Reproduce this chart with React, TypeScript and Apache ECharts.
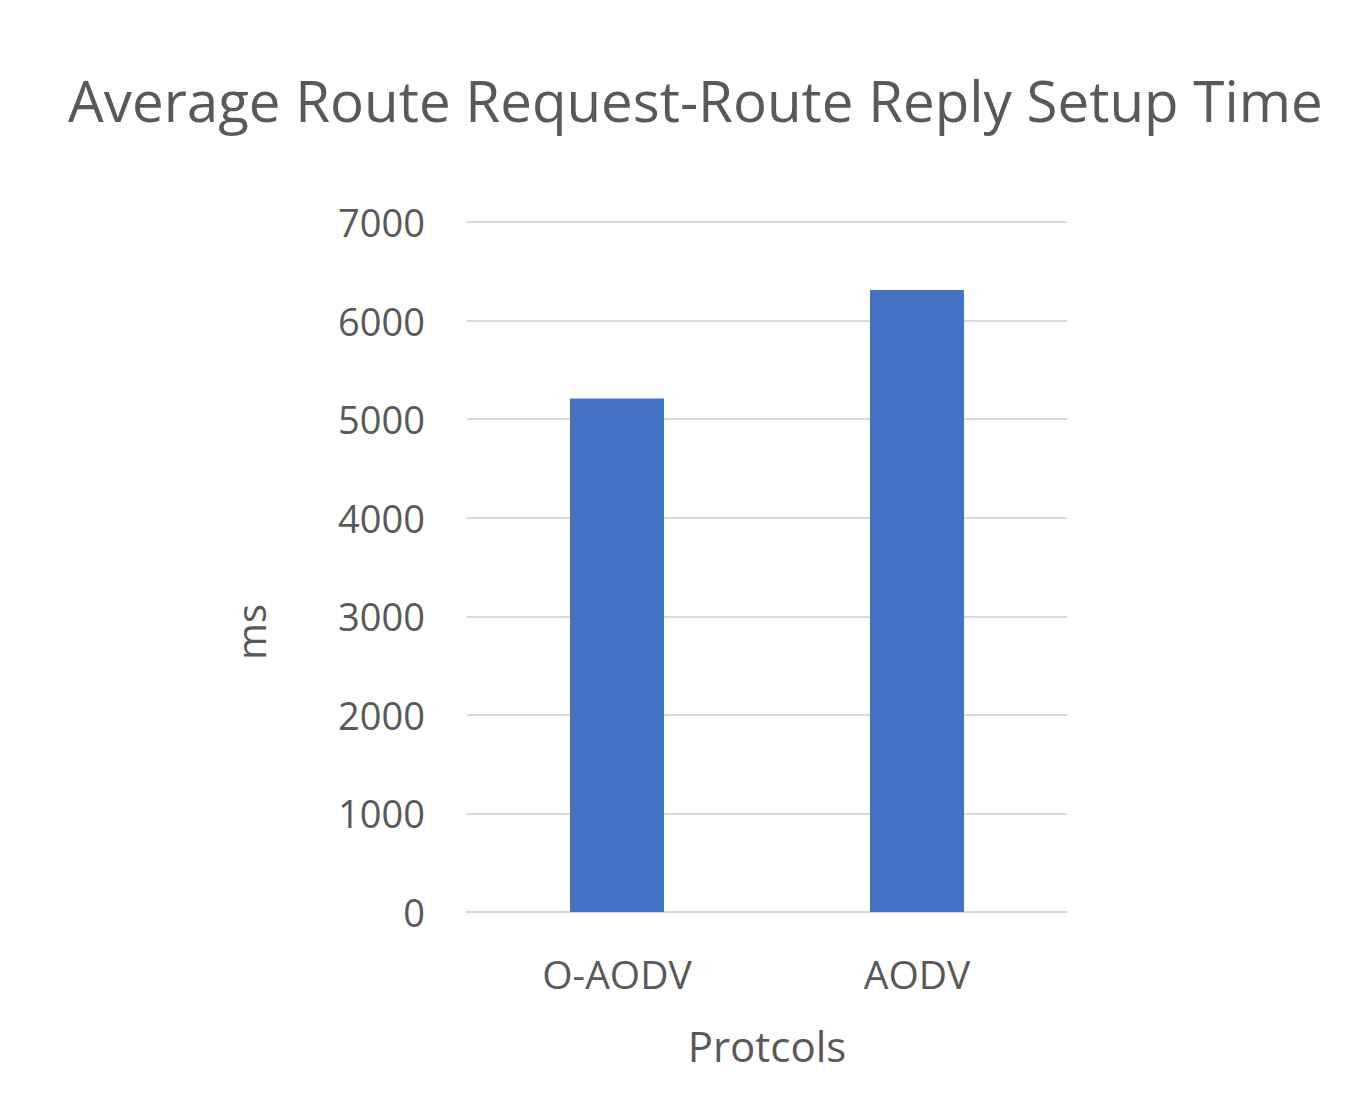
import React, { useEffect, useRef } from "react";
import * as echarts from "echarts";

const categories = ["O-AODV", "AODV"];
const setupTime = [5210, 6310];
const yTicks = [0, 1000, 2000, 3000, 4000, 5000, 6000, 7000];

export default function App() {
  const ref = useRef<HTMLDivElement>(null);
  useEffect(() => {
    const chart = echarts.init(ref.current!, null, { renderer: "svg" });
    const font = "'Open Sans', 'Noto Sans', sans-serif";
    chart.setOption({
      animation: false,
      backgroundColor: "#ffffff",
      title: {
        text: "Average Route Request-Route Reply Setup Time",
        left: 63,
        top: 67,
        textStyle: { fontFamily: font, fontSize: 56.5, fontWeight: "normal", color: "#595959" },
      },
      graphic: [
        {
          type: "text",
          x: 250,
          y: 632,
          rotation: Math.PI / 2,
          style: {
            text: "ms",
            fontFamily: font,
            fontSize: 40,
            fill: "#595959",
            align: "center",
            verticalAlign: "middle",
          },
        },
      ],
      grid: { left: 467, right: 292, top: 222, bottom: 192 },
      xAxis: {
        type: "category",
        data: categories,
        name: "Protcols",
        nameLocation: "middle",
        nameGap: 112,
        nameTextStyle: { fontFamily: font, fontSize: 42, color: "#595959" },
        axisLine: { show: true, lineStyle: { color: "#d9d9d9", width: 2 } },
        axisTick: { show: false },
        axisLabel: { fontFamily: font, fontSize: 39, color: "#595959", margin: 42 },
      },
      yAxis: {
        type: "value",
        min: yTicks[0],
        max: yTicks[yTicks.length - 1],
        interval: 1000,
        axisLine: { show: false },
        axisTick: { show: false },
        splitLine: { lineStyle: { color: "#d9d9d9", width: 2 } },
        axisLabel: {
          fontFamily: font,
          fontSize: 38,
          color: "#595959",
          margin: 42,
          padding: [0, 0, 6, 0],
          formatter: (v: number) => String(v),
        },
      },
      series: [
        {
          type: "bar",
          data: setupTime,
          barWidth: 94,
          itemStyle: { color: "#4472C4" },
        },
      ],
    });
    return () => chart.dispose();
  }, []);
  return (
    <div
      ref={ref}
      style={{ position: "absolute", left: 0, top: 0, width: 1359, height: 1104 }}
    />
  );
}
